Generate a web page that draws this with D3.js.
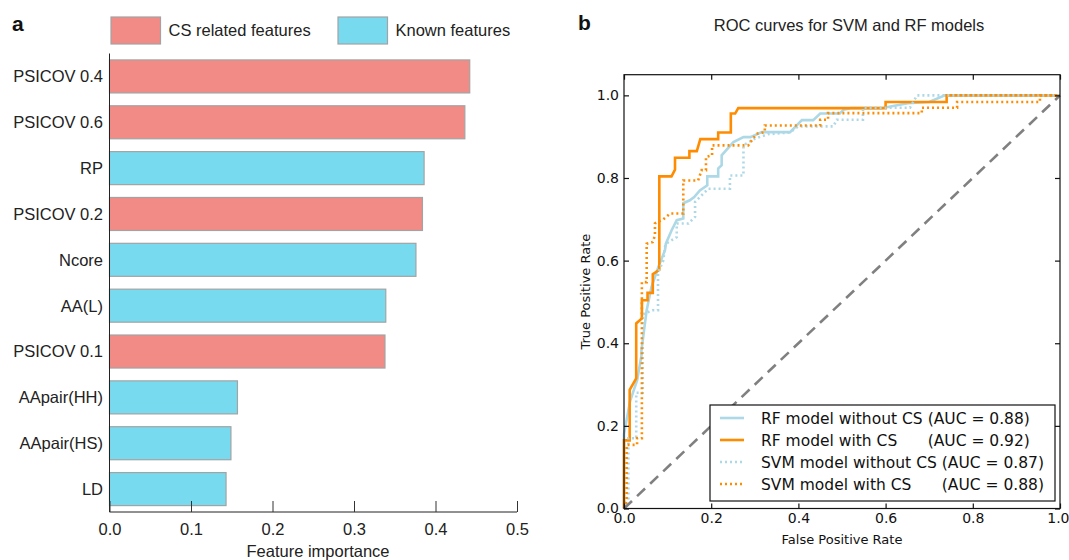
<!DOCTYPE html>
<html>
<head>
<meta charset="utf-8">
<script src="https://cdn.jsdelivr.net/npm/d3@7"></script>
<style>
  html, body { margin: 0; padding: 0; background: #fff; }
  svg { display: block; }
</style>
</head>
<body>
<svg id="chart" width="1069" height="560"></svg>
<script>
/* panel a: feature importance bars, panel b: ROC curves */

// ---- panel a data ----
var features = ['PSICOV 0.4', 'PSICOV 0.6', 'RP', 'PSICOV 0.2', 'Ncore', 'AA(L)', 'PSICOV 0.1', 'AApair(HH)', 'AApair(HS)', 'LD'];
var importance = [0.442, 0.436, 0.386, 0.384, 0.376, 0.339, 0.338, 0.157, 0.149, 0.143];
var featureGroup = ['cs', 'cs', 'known', 'cs', 'known', 'known', 'cs', 'known', 'known', 'known'];
var groupKeys = ['cs', 'known'];
var groupNames = ['CS related features', 'Known features'];
var importanceTicks = [0, 0.1, 0.2, 0.3, 0.4, 0.5];

// ---- panel b data: [false positive rate, true positive rate] ----
var rfNoCs = [[0, 0], [0, 0.18], [0.014, 0.26], [0.03, 0.31], [0.04, 0.37], [0.04, 0.383], [0.052, 0.48], [0.063, 0.536],
  [0.079, 0.585], [0.094, 0.625], [0.096, 0.641], [0.109, 0.673], [0.121, 0.698], [0.136, 0.702], [0.136, 0.739],
  [0.151, 0.746], [0.161, 0.754], [0.174, 0.77], [0.191, 0.782], [0.191, 0.804], [0.216, 0.804], [0.216, 0.823],
  [0.224, 0.831], [0.224, 0.855], [0.251, 0.887], [0.274, 0.899], [0.29, 0.899], [0.316, 0.911], [0.381, 0.911],
  [0.408, 0.94], [0.434, 0.94], [0.45, 0.956], [0.495, 0.956], [0.503, 0.965], [0.52, 0.969], [0.59, 0.969],
  [0.651, 0.981], [0.70, 0.984], [0.736, 1.0], [1, 1]];
var rfCs = [[0, 0], [0, 0.165], [0.013, 0.165], [0.013, 0.287], [0.028, 0.315], [0.028, 0.448], [0.041, 0.46],
  [0.041, 0.504], [0.054, 0.504], [0.054, 0.522], [0.066, 0.522], [0.066, 0.567], [0.081, 0.578], [0.081, 0.804],
  [0.109, 0.804], [0.117, 0.82], [0.117, 0.849], [0.15, 0.849], [0.15, 0.865], [0.167, 0.865], [0.175, 0.894],
  [0.216, 0.894], [0.216, 0.91], [0.245, 0.91], [0.245, 0.956], [0.255, 0.956], [0.262, 0.969], [0.6, 0.969],
  [0.6, 0.984], [0.74, 0.984], [0.74, 1.0], [1, 1]];
var svmNoCs = [[0, 0], [0.01, 0.02], [0.01, 0.17], [0.028, 0.17], [0.028, 0.28], [0.043, 0.28], [0.043, 0.47],
  [0.065, 0.48], [0.078, 0.48], [0.078, 0.57], [0.09, 0.6], [0.095, 0.64], [0.121, 0.657], [0.121, 0.69],
  [0.148, 0.69], [0.163, 0.706], [0.163, 0.742], [0.193, 0.774], [0.243, 0.774], [0.243, 0.806], [0.274, 0.806],
  [0.274, 0.879], [0.3, 0.895], [0.33, 0.906], [0.38, 0.91], [0.4, 0.925], [0.48, 0.925], [0.488, 0.941],
  [0.548, 0.941], [0.548, 0.97], [0.656, 0.97], [0.672, 1.0], [1, 1]];
var svmCs = [[0, 0], [0.006, 0.02], [0.006, 0.154], [0.03, 0.154], [0.03, 0.17], [0.041, 0.17], [0.041, 0.548],
  [0.052, 0.548], [0.052, 0.641], [0.066, 0.645], [0.071, 0.661], [0.071, 0.69], [0.09, 0.7], [0.106, 0.714],
  [0.136, 0.714], [0.136, 0.794], [0.17, 0.794], [0.178, 0.819], [0.188, 0.819], [0.188, 0.851], [0.202, 0.855],
  [0.202, 0.879], [0.285, 0.879], [0.304, 0.907], [0.323, 0.911], [0.323, 0.927], [0.45, 0.927], [0.45, 0.941],
  [0.468, 0.941], [0.468, 0.957], [0.683, 0.957], [0.683, 0.97], [0.764, 0.97], [0.764, 0.984], [0.954, 0.984],
  [0.954, 1.0], [1, 1]];
var rocSeries = [rfNoCs, rfCs, svmNoCs, svmCs];
var rocModels = ['RF model without CS', 'RF model with CS', 'SVM model without CS', 'SVM model with CS'];
var rocAuc = ['(AUC = 0.88)', '(AUC = 0.92)', '(AUC = 0.87)', '(AUC = 0.88)'];
var rateTicks = [0, 0.2, 0.4, 0.6, 0.8, 1.0];

var svg = d3.select('#chart');
var SANS = '"Liberation Sans", Arial, Helvetica, sans-serif';
var VERA = '"DejaVu Sans", sans-serif';

// ================= panel a =================
var colA = { cs: '#f28b86', known: '#78daef' };
var FS_A = 16.5;
var xa = d3.scaleLinear().domain([0, 0.5]).range([109.5, 517]);
var ya = d3.scaleBand().domain(features).range([53.5, 512]).paddingInner(0.28).paddingOuter(0.14);
var gA = svg.append('g');

gA.selectAll('rect.bar').data(features).enter().append('rect')
  .attr('class', 'bar')
  .attr('x', xa(0))
  .attr('y', function (d) { return ya(d); })
  .attr('width', function (d, i) { return xa(importance[i]) - xa(0); })
  .attr('height', ya.bandwidth())
  .attr('fill', function (d, i) { return colA[featureGroup[i]]; })
  .attr('stroke', '#a3a3a3').attr('stroke-width', 1.2);

// left spine + labels
gA.append('line').attr('x1', xa(0)).attr('x2', xa(0)).attr('y1', 53.5).attr('y2', 512)
  .attr('stroke', '#222').attr('stroke-width', 1);
gA.selectAll('text.feat').data(features).enter().append('text')
  .attr('class', 'feat')
  .attr('x', 103).attr('y', function (d) { return ya(d) + ya.bandwidth() / 2; })
  .attr('dy', '0.36em').attr('text-anchor', 'end')
  .attr('font-family', SANS).attr('font-size', FS_A).attr('fill', '#222')
  .text(function (d) { return d; });

var axA = gA.append('g').attr('transform', 'translate(0,512)')
  .call(d3.axisBottom(xa).tickValues(importanceTicks).tickFormat(d3.format('.1f')).tickSize(-11).tickPadding(11));
axA.select('.domain').attr('stroke', '#222').attr('d', 'M' + xa(0) + ',0H' + xa(0.5));
axA.selectAll('.tick line').attr('stroke', '#333');
axA.selectAll('.tick text').attr('font-family', SANS).attr('font-size', FS_A).attr('fill', '#222');
gA.append('text').attr('x', 318).attr('y', 557).attr('text-anchor', 'middle')
  .attr('font-family', SANS).attr('font-size', FS_A).attr('fill', '#222').text('Feature importance');

// legend
var legA = gA.selectAll('g.leg').data(groupKeys).enter().append('g')
  .attr('transform', function (d, i) { return 'translate(' + [111, 338][i] + ',17)'; });
legA.append('rect').attr('width', 49.5).attr('height', 27)
  .attr('fill', function (d) { return colA[d]; }).attr('stroke', '#a3a3a3').attr('stroke-width', 1.2);
legA.append('text').attr('x', 57.5).attr('y', 13.5).attr('dy', '0.36em')
  .attr('font-family', SANS).attr('font-size', FS_A).attr('fill', '#222')
  .text(function (d, i) { return groupNames[i]; });

svg.append('text').attr('x', 12).attr('y', 31).attr('font-family', SANS).attr('font-weight', 'bold')
  .attr('font-size', 21).attr('fill', '#111').text('a');

// ================= panel b =================
var xb = d3.scaleLinear().domain([0, 1]).range([624, 1060]);
var yb = d3.scaleLinear().domain([0, 1.05]).range([508.5, 74.7]);
var gB = svg.append('g');
var rocColor = ['#add8e6', '#ff8c00', '#add8e6', '#ff8c00'];
var rocDash = [null, null, '2,3', '2,3'];

svg.append('text').attr('x', 578).attr('y', 30).attr('font-family', SANS).attr('font-weight', 'bold')
  .attr('font-size', 21).attr('fill', '#111').text('b');
gB.append('text').attr('x', 849).attr('y', 31).attr('text-anchor', 'middle')
  .attr('font-family', SANS).attr('font-size', 16.5).attr('fill', '#222').text('ROC curves for SVM and RF models');

var line = d3.line().x(function (d) { return xb(d[0]); }).y(function (d) { return yb(d[1]); });
gB.selectAll('path.roc').data(rocSeries).enter().append('path')
  .attr('class', 'roc')
  .attr('d', line).attr('fill', 'none')
  .attr('stroke', function (d, i) { return rocColor[i]; })
  .attr('stroke-width', 2.6)
  .attr('stroke-dasharray', function (d, i) { return rocDash[i]; });

gB.append('path').attr('d', line([[0, 0], [1, 1]])).attr('fill', 'none')
  .attr('stroke', '#808080').attr('stroke-width', 2.6).attr('stroke-dasharray', '11,7');

// frame with inward ticks on all sides
gB.append('rect').attr('x', xb(0)).attr('y', yb(1.05)).attr('width', xb(1) - xb(0)).attr('height', yb(0) - yb(1.05))
  .attr('fill', 'none').attr('stroke', '#111').attr('stroke-width', 1.2);
function ticks(axis, tx, ty, showLabels) {
  var g = gB.append('g').attr('transform', 'translate(' + tx + ',' + ty + ')')
    .call(axis.tickValues(rateTicks).tickFormat(showLabels ? d3.format('.1f') : '').tickSize(-5).tickPadding(5));
  g.select('.domain').remove();
  g.selectAll('.tick line').attr('stroke', '#111').attr('stroke-width', 1.2);
  g.selectAll('.tick text').attr('font-family', VERA).attr('font-size', 14).attr('fill', '#111');
  return g;
}
var axBottom = ticks(d3.axisBottom(xb), 0, yb(0), true);
// the last label sits at the page edge, keep it inside
axBottom.selectAll('.tick text').filter(function (d) { return d === 1; }).attr('text-anchor', 'end').attr('x', 9);
ticks(d3.axisTop(xb), 0, yb(1.05), false);
ticks(d3.axisLeft(yb), xb(0), 0, true);
ticks(d3.axisRight(yb), xb(1), 0, false);

gB.append('text').attr('x', 842).attr('y', 543.5).attr('text-anchor', 'middle')
  .attr('font-family', VERA).attr('font-size', 13).attr('fill', '#111').text('False Positive Rate');
gB.append('text').attr('transform', 'translate(590,291.6) rotate(-90)').attr('text-anchor', 'middle')
  .attr('font-family', VERA).attr('font-size', 13).attr('fill', '#111').text('True Positive Rate');

// legend
var legB = gB.append('g');
legB.append('rect').attr('x', 710).attr('y', 405).attr('width', 345).attr('height', 96)
  .attr('fill', '#fff').attr('stroke', '#111').attr('stroke-width', 1.2);
var rows = legB.selectAll('g.row').data(rocModels).enter().append('g')
  .attr('transform', function (d, i) { return 'translate(0,' + (418 + i * 22) + ')'; });
rows.append('line').attr('x1', 720).attr('x2', 744)
  .attr('stroke', function (d, i) { return rocColor[i]; }).attr('stroke-width', 2.6)
  .attr('stroke-dasharray', function (d, i) { return rocDash[i]; });
var labels = rows.append('text').attr('x', 761).attr('dy', '0.36em')
  .attr('font-family', VERA).attr('font-size', 15.5).attr('fill', '#111')
  .text(function (d) { return d; });
// AUC part lines up with the longest model name of the same kind
var nameW = labels.nodes().map(function (n) { return n.getComputedTextLength(); });
var spaceW = 5;
rows.append('text')
  .attr('x', function (d, i) { var j = i < 2 ? 0 : 2; return 761 + nameW[j] + spaceW; })
  .attr('dy', '0.36em')
  .attr('font-family', VERA).attr('font-size', 15.5).attr('fill', '#111')
  .text(function (d, i) { return rocAuc[i]; });
</script>
</body>
</html>
